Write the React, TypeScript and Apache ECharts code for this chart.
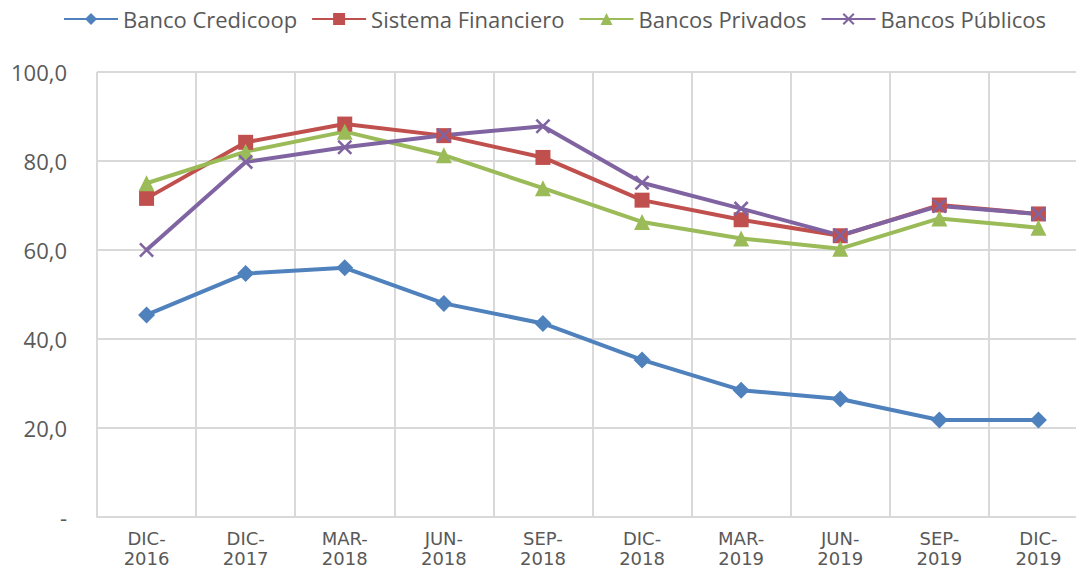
import React, { useEffect, useRef } from "react";
import * as echarts from "echarts";

const categories = [
  "DIC-\n2016", "DIC-\n2017", "MAR-\n2018", "JUN-\n2018", "SEP-\n2018",
  "DIC-\n2018", "MAR-\n2019", "JUN-\n2019", "SEP-\n2019", "DIC-\n2019",
];
const credicoop = [45.4, 54.7, 56.0, 48.0, 43.5, 35.3, 28.5, 26.5, 21.8, 21.8];
const sistema = [71.6, 84.2, 88.3, 85.7, 80.8, 71.2, 66.8, 63.2, 70.1, 68.1];
const privados = [75.0, 82.1, 86.6, 81.3, 73.9, 66.3, 62.6, 60.3, 67.1, 65.0];
const publicos = [60.0, 79.8, 83.1, 85.8, 87.8, 75.1, 69.3, 63.3, 69.9, 68.1];

const FONT = "Open Sans";
const TEXT = "#595959";
const X_SYMBOL =
  "path://M0,1.2L1.2,0L10,8.8L8.8,10Z M8.8,0L10,1.2L1.2,10L0,8.8Z";

export default function App() {
  const ref = useRef<HTMLDivElement>(null);
  useEffect(() => {
    if (!ref.current) return;
    const chart = echarts.init(ref.current, undefined, { renderer: "svg" });
    const mk = (name: string, data: number[], color: string, symbol: string, size: number) => ({
      name,
      type: "line",
      data,
      symbol,
      symbolSize: size,
      lineStyle: { color, width: 4 },
      itemStyle: { color },
      emphasis: { disabled: true },
    });
    chart.setOption({
      animation: false,
      textStyle: { fontFamily: FONT },
      legend: {
        top: 3,
        left: 58,
        itemWidth: 54,
        itemHeight: 15,
        itemGap: 14,
        textStyle: { color: TEXT, fontSize: 22, fontFamily: FONT },
        data: ["Banco Credicoop", "Sistema Financiero", "Bancos Privados", "Bancos Públicos"],
      },
      grid: { left: 97, right: 2, top: 72, bottom: 50, containLabel: false, outerBoundsMode: "none" },
      xAxis: {
        type: "category",
        data: categories,
        boundaryGap: true,
        axisLine: { show: true, lineStyle: { color: "#d9d9d9", width: 2 } },
        axisTick: { show: false },
        splitLine: { show: true, lineStyle: { color: "#d9d9d9", width: 2 } },
        axisLabel: {
          color: TEXT,
          fontSize: 18,
          lineHeight: 20,
          margin: 11,
          fontFamily: "DejaVu Sans",
          interval: 0,
        },
      },
      yAxis: {
        type: "value",
        min: 0,
        max: 100,
        interval: 20,
        axisLine: { show: false },
        axisTick: { show: false },
        splitLine: { show: true, lineStyle: { color: "#d9d9d9", width: 2 } },
        axisLabel: {
          color: TEXT,
          fontSize: 22,
          margin: 30,
          fontFamily: FONT,
          formatter: (v: number) => (v === 0 ? "-" : v.toFixed(1).replace(".", ",")),
        },
      },
      series: [
        mk("Banco Credicoop", credicoop, "#4F81BD", "diamond", 17),
        mk("Sistema Financiero", sistema, "#C0504D", "rect", 15),
        mk("Bancos Privados", privados, "#9BBB59", "triangle", 16),
        mk("Bancos Públicos", publicos, "#8064A2", X_SYMBOL, 15),
      ],
    });
    return () => chart.dispose();
  }, []);
  return (
    <div style={{ position: "fixed", left: 0, top: 0, width: 1076, height: 567, overflow: "hidden", background: "#fff" }}>
      <div ref={ref} style={{ position: "absolute", left: 0, top: 0, width: 1090, height: 567 }} />
    </div>
  );
}
